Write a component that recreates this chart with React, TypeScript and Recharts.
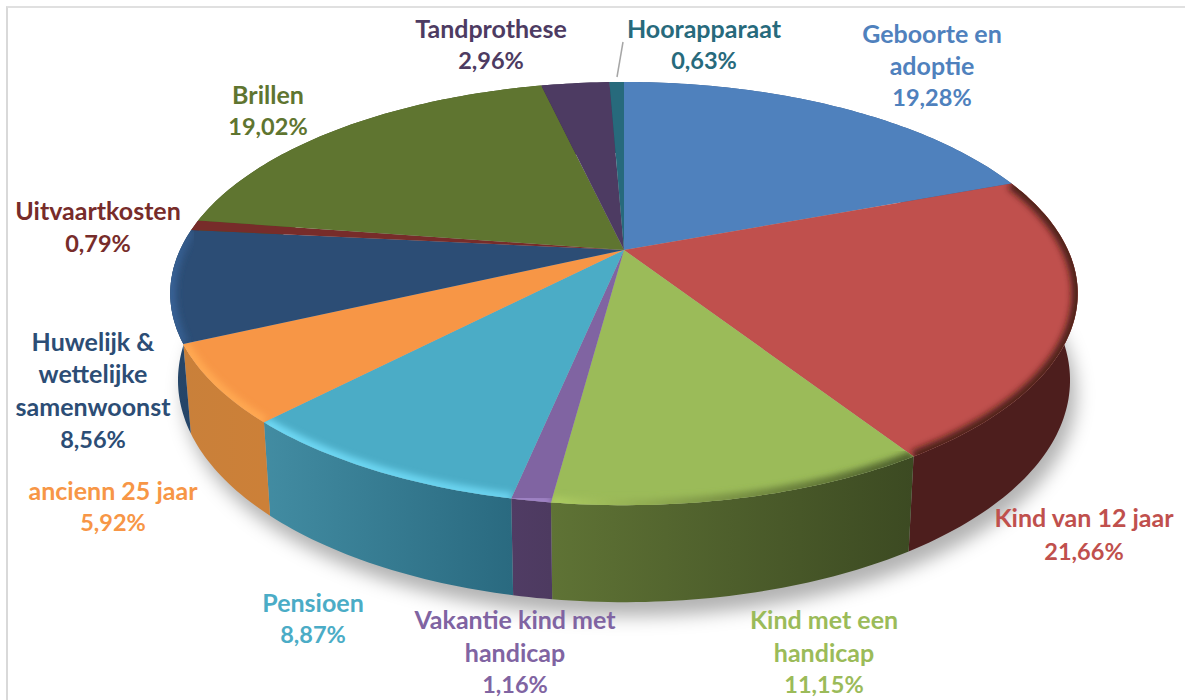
import React from "react";
import { PieChart, Pie } from "recharts";

const categories = ["Geboorte en adoptie", "Kind van 12 jaar", "Kind met een handicap", "Vakantie kind met handicap", "Pensioen", "ancienn 25 jaar", "Huwelijk & wettelijke samenwoonst", "Uitvaartkosten", "Brillen", "Tandprothese", "Hoorapparaat"];
const values = [19.28, 21.66, 11.15, 1.16, 8.87, 5.92, 8.56, 0.79, 19.02, 2.96, 0.63];
const data = categories.map((name, i) => ({ name, value: values[i] }));
const whole = [{ name: "all", value: 1 }];

const topColors = ["#4f81bd", "#c0504d", "#9bbb59", "#8064a2", "#4bacc6", "#f79646", "#2c4d75", "#772c2a", "#5f7530", "#4d3b62", "#276a7c"];
const wallColors: [string, string][] = [
  ["#3b6090", "#3b6090"], ["#4d1e1d", "#4d1e1d"], ["#5f7335", "#3c4a22"], ["#503c64", "#4d3a60"],
  ["#428ca2", "#2a6a80"], ["#c9803a", "#cc8038"], ["#264668", "#254568"], ["#5a2220", "#5a2220"],
  ["#47581f", "#47581f"], ["#3a2c4a", "#3a2c4a"], ["#1d505d", "#1d505d"],
];
const rimColors: ([string, number, string, number] | null)[] = [
  null, ["#3a1513", 0.85, "#3a1513", 0.85], ["#aecd62", 1, "#3f4f24", 0.85], ["#a084c6", 1, "#a084c6", 1],
  ["#6ed8f4", 1, "#6ad2ee", 1], ["#ffa851", 1, "#ffa851", 1], ["#386296", 1, "#386296", 0.5], null, null, null, null,
];
const labelLayout: { x: number; ys: number[]; lines: string[] }[] = [
  { x: 932, ys: [33, 65, 97], lines: ["Geboorte en", "adoptie"] },
  { x: 1084, ys: [517, 551], lines: ["Kind van 12 jaar"] },
  { x: 824, ys: [619, 652, 684], lines: ["Kind met een", "handicap"] },
  { x: 515, ys: [619, 652, 684], lines: ["Vakantie kind met", "handicap"] },
  { x: 313, ys: [602, 634], lines: ["Pensioen"] },
  { x: 113, ys: [490, 522], lines: ["ancienn 25 jaar"] },
  { x: 93, ys: [341, 373, 406, 439], lines: ["Huwelijk &", "wettelijke", "samenwoonst"] },
  { x: 98, ys: [210, 243], lines: ["Uitvaartkosten"] },
  { x: 268, ys: [94, 126], lines: ["Brillen"] },
  { x: 491, ys: [28, 60], lines: ["Tandprothese"] },
  { x: 704, ys: [28, 60], lines: ["Hoorapparaat"] },
];

const PERSP = 0.206;
const FLAT = 0.4563;
const WALL_BASE = 84;
const WALL_GROW = 13;
const WALL_SCALE = 0.983;
const RAD = Math.PI / 180;

type P = [number, number];
function proj(cx: number, cy: number, R: number, deg: number, r = 1): P {
  const u = Math.cos(deg * RAD) * r;
  const v = -Math.sin(deg * RAD) * r;
  const d = 1 - PERSP * v;
  return [cx + (R * u) / d, cy + (R * FLAT * v) / d];
}
function lower(cx: number, cy: number, R: number, deg: number): P {
  const [x, y] = proj(cx, cy, R, deg);
  const v = -Math.sin(deg * RAD);
  return [cx + (x - cx) * WALL_SCALE, y + WALL_BASE + WALL_GROW * v];
}
function arcAngles(a0: number, a1: number): number[] {
  const n = Math.max(2, Math.ceil(Math.abs(a1 - a0)));
  const out: number[] = [];
  for (let i = 0; i <= n; i++) out.push(a0 + ((a1 - a0) * i) / n);
  return out;
}
const toPath = (pts: P[]) => pts.map((p, i) => `${i ? "L" : "M"}${p[0].toFixed(2)} ${p[1].toFixed(2)}`).join("");

function ShadowShape(props: any) {
  const { cx, cy, outerRadius: R } = props;
  const pts = arcAngles(0, 360).map((a) => {
    const [x, y] = lower(cx, cy, R, a);
    return [x + 6, y + 14] as P;
  });
  return (
    <g>
      <defs>
        <filter id="pieShadow" x="-10%" y="-10%" width="120%" height="130%">
          <feGaussianBlur stdDeviation="9" />
        </filter>
        <filter id="rimBlur" x="-10%" y="-10%" width="120%" height="120%">
          <feGaussianBlur stdDeviation="3" />
        </filter>
      </defs>
      <path d={toPath(pts) + "Z"} fill="#000" fillOpacity={0.3} filter="url(#pieShadow)" />
    </g>
  );
}

function WallShape(props: any) {
  const { cx, cy, outerRadius: R, startAngle, endAngle, index } = props;
  const as = arcAngles(startAngle, endAngle);
  const top = as.map((a) => proj(cx, cy, R, a));
  const bot = as.map((a) => lower(cx, cy, R, a)).reverse();
  const xs = top.map((p) => p[0]);
  const id = `wall${index}`;
  const [c0, c1] = wallColors[index];
  return (
    <g>
      <defs>
        <linearGradient id={id} gradientUnits="userSpaceOnUse" x1={Math.min(...xs)} x2={Math.max(...xs) + 0.1} y1={0} y2={0}>
          <stop offset="0" stopColor={c0} />
          <stop offset="1" stopColor={c1} />
        </linearGradient>
      </defs>
      <path d={toPath([...top, ...bot]) + "Z"} fill={`url(#${id})`} />
    </g>
  );
}

function TopShape(props: any) {
  const { cx, cy, outerRadius: R, startAngle, endAngle, index } = props;
  const as = arcAngles(startAngle, endAngle);
  const rim = as.map((a) => proj(cx, cy, R, a, 1));
  const d = toPath([[cx, cy], ...as.map((a) => proj(cx, cy, R, a))]) + "Z";
  const rc = rimColors[index];
  const xs = rim.map((p) => p[0]);
  return (
    <g>
      <defs>
        <clipPath id={`face${index}`}>
          <path d={d} />
        </clipPath>
        {rc && (
          <linearGradient id={`rim${index}`} gradientUnits="userSpaceOnUse" x1={Math.min(...xs)} x2={Math.max(...xs) + 0.1} y1={0} y2={0}>
            <stop offset="0" stopColor={rc[0]} stopOpacity={rc[1]} />
            <stop offset="1" stopColor={rc[2]} stopOpacity={rc[3]} />
          </linearGradient>
        )}
      </defs>
      <path d={d} fill={topColors[index]} />
      {rc && (
        <g clipPath={`url(#face${index})`}>
          <path d={toPath(rim)} fill="none" stroke={`url(#rim${index})`} strokeWidth={12} filter="url(#rimBlur)" />
        </g>
      )}
    </g>
  );
}

function renderLabel(props: any) {
  const { index, value } = props;
  const layout = labelLayout[index];
  const pct = Number(value).toFixed(2).replace(".", ",") + "%";
  const lines = [...layout.lines, pct];
  return (
    <g key={index}>
      {index === 10 && <line x1={623} y1={42} x2={617} y2={77} stroke="#a6a6a6" strokeWidth={1.5} />}
      {lines.map((t, i) => (
        <text key={i} x={layout.x} y={layout.ys[i]} textAnchor="middle" dominantBaseline="central"
          fontFamily="Lato, 'Open Sans', sans-serif" fontWeight={700}
          fontSize={i === lines.length - 1 ? 23.5 : 25} fill={topColors[index]}>
          {t}
        </text>
      ))}
    </g>
  );
}

const CX = 624, CY = 250, RADIUS = 444;

export default function App() {
  return (
    <div style={{ position: "absolute", left: 0, top: 0, width: 1185, height: 700, overflow: "hidden", background: "#fff" }}>
      <div style={{ position: "absolute", left: 6, top: 6, right: 0, bottom: 0, borderLeft: "2px solid #d9d9d9", borderTop: "2px solid #e0e0e0" }} />
      <div style={{ position: "absolute", left: 0, top: 0 }}>
        <PieChart width={1185} height={700} margin={{ top: 0, right: 0, bottom: 0, left: 0 }}>
          <Pie data={whole} dataKey="value" cx={CX} cy={CY} outerRadius={RADIUS} startAngle={90} endAngle={-270}
            isAnimationActive={false} shape={ShadowShape} stroke="none" label={false} labelLine={false} legendType="none" />
          <Pie data={data} dataKey="value" nameKey="name" cx={CX} cy={CY} outerRadius={RADIUS} startAngle={90} endAngle={-270}
            isAnimationActive={false} shape={WallShape} stroke="none" label={false} labelLine={false} />
          <Pie data={data} dataKey="value" nameKey="name" cx={CX} cy={CY} outerRadius={RADIUS} startAngle={90} endAngle={-270}
            isAnimationActive={false} shape={TopShape} stroke="none" label={renderLabel} labelLine={false} />
        </PieChart>
      </div>
    </div>
  );
}
